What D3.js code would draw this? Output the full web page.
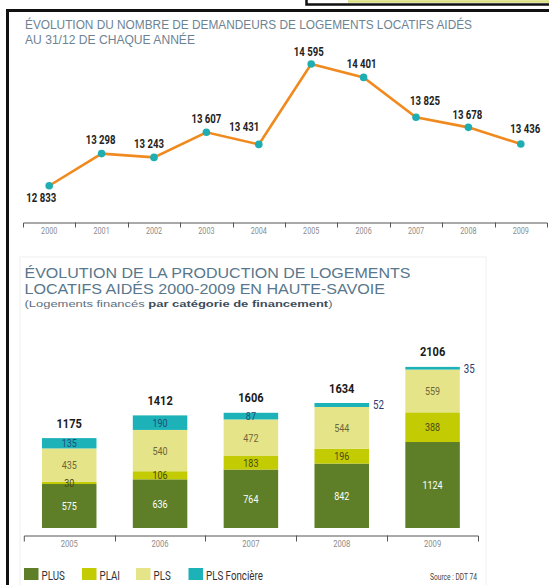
<!DOCTYPE html>
<html lang="fr">
<head>
<meta charset="UTF-8">
<title>Logements locatifs aidés - Haute-Savoie</title>
<style>
body { margin: 0; background: #fff; }
svg { display: block; }
.narrow { font-family: Roboto, 'Liberation Sans', sans-serif; }
.title { font-family: 'Liberation Sans', Arial, sans-serif; }
.axis text { fill: #8c8c8c; font-family: Roboto, 'Liberation Sans', sans-serif; }
.axis path, .axis line { stroke: #555; }
</style>
<script src="https://cdnjs.cloudflare.com/ajax/libs/d3/7.8.5/d3.min.js"></script>
</head>
<body>
<script>
// values
var years = ['2000', '2001', '2002', '2003', '2004', '2005', '2006', '2007', '2008', '2009'];
var demandeurs = [12833, 13298, 13243, 13607, 13431, 14595, 14401, 13825, 13678, 13436];

var prodYears = ['2005', '2006', '2007', '2008', '2009'];
var plus = [575, 636, 764, 842, 1124];
var plai = [30, 106, 183, 196, 388];
var pls = [435, 540, 472, 544, 559];
var plsFonciere = [135, 190, 87, 52, 35];
var totals = [1175, 1412, 1606, 1634, 2106]; // printed totals (2006/2007 don't add up in the source)

var categories = ['PLUS', 'PLAI', 'PLS', 'PLS Foncière'];

var W = 549, H = 585;
var svg = d3.select('body').append('svg').attr('width', W).attr('height', H);

// squeeze text horizontally to mimic the condensed face of the original
function condense(sel, k) {
  sel.each(function () {
    var w = this.getComputedTextLength();
    d3.select(this).attr('textLength', w * k).attr('lengthAdjust', 'spacingAndGlyphs');
  });
}

var blur = svg.append('defs').append('filter').attr('id', 'blur')
  .attr('x', '-20%').attr('y', '-20%').attr('width', '140%').attr('height', '140%');
blur.append('feGaussianBlur').attr('stdDeviation', 1.3);

// ---- page frames (cropped screenshot borders) ----
svg.append('line').attr('x1', 348).attr('x2', W).attr('y1', 1.5).attr('y2', 1.5)
   .attr('stroke', '#d9df7c').attr('stroke-width', 2.5);
svg.append('path').attr('d', 'M306.5,0V4.5H' + W)
   .attr('fill', 'none').attr('stroke', '#111').attr('stroke-width', 2.5);
svg.append('path').attr('d', 'M7.5,' + H + 'V10.5H' + W)
   .attr('fill', 'none').attr('stroke', '#111').attr('stroke-width', 3);

// ---- top chart: demandeurs ----
svg.append('line').attr('x1', 22).attr('x2', W).attr('y1', 241.5).attr('y2', 241.5)
   .attr('stroke', '#9a9a9a').attr('stroke-width', 2.5).attr('filter', 'url(#blur)');

var t1 = svg.append('g').attr('class', 'title').style('font-size', '12px').attr('fill', '#6d8394');
t1.append('text').attr('x', 25).attr('y', 29.3).attr('textLength', 447).attr('lengthAdjust', 'spacingAndGlyphs')
  .text('ÉVOLUTION DU NOMBRE DE DEMANDEURS DE LOGEMENTS LOCATIFS AIDÉS');
t1.append('text').attr('x', 25).attr('y', 44).attr('textLength', 170).attr('lengthAdjust', 'spacingAndGlyphs')
  .text('AU 31/12 DE CHAQUE ANNÉE');

var x1 = d3.scaleBand().domain(years).range([23, 547]);
var y1 = d3.scaleLinear().domain([12000, 15000]).range([243.3, 36]);

var ax1 = svg.append('g').attr('class', 'axis').attr('transform', 'translate(0,222.5)')
  .call(d3.axisBottom(x1).tickSizeInner(0).tickSizeOuter(5).tickPadding(5));
ax1.selectAll('.tick line').remove();
ax1.selectAll('text').style('font-size', '8.5px').call(condense, 0.85);
ax1.selectAll('.sep').data(years.slice(1)).enter().append('line')
  .attr('x1', function (d) { return Math.round(x1(d)) + 0.5; })
  .attr('x2', function (d) { return Math.round(x1(d)) + 0.5; })
  .attr('y1', 0).attr('y2', 5);

var pts = years.map(function (y, i) { return { year: y, value: demandeurs[i] }; });
var cx = function (d) { return x1(d.year) + x1.bandwidth() / 2; };

svg.append('path').datum(pts)
  .attr('fill', 'none').attr('stroke', '#f08a1e').attr('stroke-width', 2.6)
  .attr('d', d3.line().x(cx).y(function (d) { return y1(d.value); }));

svg.selectAll('.pt').data(pts).enter().append('circle')
  .attr('cx', cx).attr('cy', function (d) { return y1(d.value); })
  .attr('r', 3.8).attr('fill', '#1eaeb2');

// label offsets (layout only)
var nudge = [[-8, 12], [-1, -13.5], [-5, -13.5], [0, -13.5], [-14.5, -17.5], [-2.5, -12.5], [-2, -14], [9, -16], [-1, -12.5], [4.5, -15]];
svg.selectAll('.vl').data(pts).enter().append('text')
  .attr('class', 'narrow')
  .attr('x', function (d, i) { return cx(d) + nudge[i][0]; })
  .attr('y', function (d, i) { return y1(d.value) + nudge[i][1]; })
  .attr('dy', '0.35em').attr('text-anchor', 'middle')
  .style('font-size', '12px').style('font-weight', 'bold').attr('fill', '#222')
  .text(function (d) { return d3.format(',')(d.value).replace(',', ' '); })
  .call(condense, 0.8);

// ---- bottom chart: production ----
svg.append('rect').attr('x', 20).attr('y', 257).attr('width', 466).attr('height', 340).attr('fill', '#fff')
  .attr('stroke', '#f0f0f0');
svg.append('line').attr('x1', 487.5).attr('x2', 487.5).attr('y1', 259).attr('y2', H + 5)
  .attr('stroke', '#8a8a8a').attr('stroke-width', 2).attr('filter', 'url(#blur)');

var t2 = svg.append('g').attr('class', 'title').attr('fill', '#58778c');
t2.append('text').attr('x', 24.5).attr('y', 278).style('font-size', '14.2px')
  .attr('textLength', 386).attr('lengthAdjust', 'spacingAndGlyphs')
  .text('ÉVOLUTION DE LA PRODUCTION DE LOGEMENTS');
t2.append('text').attr('x', 24.5).attr('y', 294).style('font-size', '14.2px')
  .attr('textLength', 360.5).attr('lengthAdjust', 'spacingAndGlyphs')
  .text('LOCATIFS AIDÉS 2000-2009 EN HAUTE-SAVOIE');
var sub = t2.append('text').attr('x', 24.5).attr('y', 306.5).style('font-size', '9.4px')
  .attr('textLength', 308).attr('lengthAdjust', 'spacingAndGlyphs').attr('fill', '#5b6f80');
sub.append('tspan').text('(Logements financés ');
sub.append('tspan').style('font-weight', 'bold').attr('fill', '#3d4c5a').text('par catégorie de financement');
sub.append('tspan').text(')');

var keys = ['PLUS', 'PLAI', 'PLS', 'PLSF'];
var fills = { PLUS: '#5e7f28', PLAI: '#c3cc02', PLS: '#e6e488', PLSF: '#1cb2b8' };
var inks = { PLUS: '#ffffff', PLAI: '#4a4718', PLS: '#6d6638', PLSF: '#1f4d78' };

var rows = prodYears.map(function (y, i) {
  return { year: y, PLUS: plus[i], PLAI: plai[i], PLS: pls[i], PLSF: plsFonciere[i], total: totals[i] };
});
var stack = d3.stack().keys(keys)(rows);

var x2 = d3.scaleBand().domain(prodYears).range([23.8, 478]).paddingInner(0.4).paddingOuter(0.2);
var y2 = d3.scaleLinear().domain([0, 2200]).range([528, 359.7]);

var layer = svg.selectAll('.layer').data(stack).enter().append('g')
  .attr('fill', function (s) { return fills[s.key]; });
layer.selectAll('rect').data(function (s) { return s; }).enter().append('rect')
  .attr('x', function (d) { return x2(d.data.year); })
  .attr('y', function (d) { return y2(d[1]); })
  .attr('width', x2.bandwidth())
  .attr('height', function (d) { return y2(d[0]) - y2(d[1]); });

function outside(key, d) { return key === 'PLSF' && d.data.PLSF < 60; }

stack.forEach(function (s) {
  svg.selectAll('.lbl-' + s.key).data(s).enter().append('text')
    .attr('class', 'narrow')
    .attr('x', function (d) {
      return outside(s.key, d) ? x2(d.data.year) + x2.bandwidth() + 4 : x2(d.data.year) + x2.bandwidth() / 2;
    })
    .attr('y', function (d) { return (y2(d[0]) + y2(d[1])) / 2; })
    .attr('dy', '0.35em')
    .attr('text-anchor', function (d) { return outside(s.key, d) ? 'start' : 'middle'; })
    .attr('fill', function (d) { return outside(s.key, d) ? '#2b3d70' : inks[s.key]; })
    .style('font-size', function (d) { return outside(s.key, d) ? '12.5px' : '11.5px'; })
    .text(function (d) { return d.data[s.key]; })
    .call(condense, 0.78);
});

var topLayer = stack[stack.length - 1];
svg.selectAll('.tot').data(topLayer).enter().append('text')
  .attr('class', 'narrow')
  .attr('x', function (d) { return x2(d.data.year) + x2.bandwidth() / 2; })
  .attr('y', function (d) { return y2(d[1]) - 15; })
  .attr('dy', '0.35em').attr('text-anchor', 'middle')
  .style('font-size', '13px').style('font-weight', 'bold').attr('fill', '#1a1a1a')
  .text(function (d) { return d.data.total; })
  .call(condense, 0.85);

var ax2 = svg.append('g').attr('class', 'axis').attr('transform', 'translate(0,535.5)')
  .call(d3.axisBottom(x2).tickSizeInner(0).tickSizeOuter(6).tickPadding(5.5));
ax2.selectAll('.tick line').remove();
ax2.selectAll('text').style('font-size', '9px').call(condense, 0.85);
ax2.selectAll('.sep').data(prodYears.slice(1)).enter().append('line')
  .attr('x1', function (d) { return Math.round(x2(d) - x2.step() * 0.2) + 0.5; })
  .attr('x2', function (d) { return Math.round(x2(d) - x2.step() * 0.2) + 0.5; })
  .attr('y1', 0).attr('y2', 6);

// legend
var legX = [24, 82, 136, 188.5];
var leg = svg.selectAll('.leg').data(categories).enter().append('g')
  .attr('transform', function (d, i) { return 'translate(' + legX[i] + ',568)'; });
leg.append('rect').attr('width', 14.5).attr('height', 12)
  .attr('fill', function (d, i) { return fills[keys[i]]; });
leg.append('text').attr('class', 'narrow').attr('x', 17.5).attr('y', 11.5)
  .style('font-size', '13px').attr('fill', '#333').text(function (d) { return d; })
  .call(condense, 0.75);

svg.append('text').attr('class', 'narrow').attr('x', 477).attr('y', 580).attr('text-anchor', 'end')
  .style('font-size', '8.5px').attr('fill', '#444').text('Source : DDT 74')
  .call(condense, 0.78);
</script>
</body>
</html>
